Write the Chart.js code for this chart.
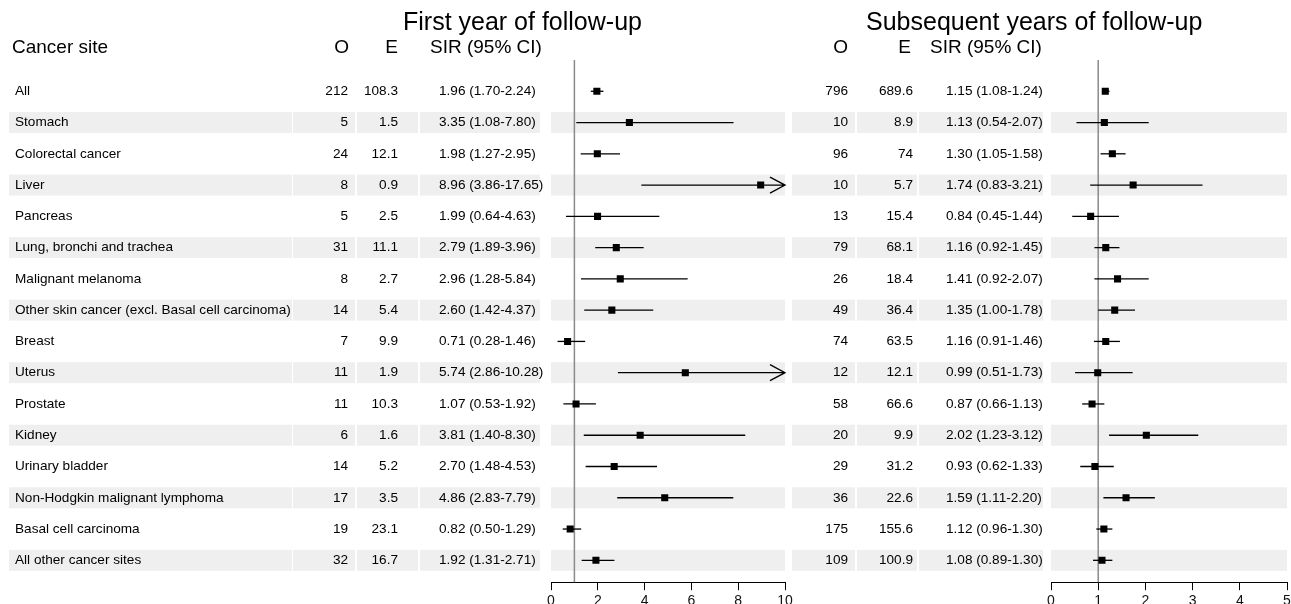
<!DOCTYPE html>
<html>
<head>
<meta charset="utf-8">
<script src="https://cdn.jsdelivr.net/npm/chart.js@4.4.1/dist/chart.umd.min.js"></script>
<style>
  html, body { margin: 0; padding: 0; background: #fff; overflow: hidden; width: 1291px; height: 604px; }
  canvas { position: absolute; top: 0; }
  #left { left: 0; }
  #right { left: 780px; }
</style>
</head>
<body>
<canvas id="left" width="800" height="617"></canvas>
<canvas id="right" width="530" height="617"></canvas>
<script>
const sites = ['All', 'Stomach', 'Colorectal cancer', 'Liver', 'Pancreas', 'Lung, bronchi and trachea',
  'Malignant melanoma', 'Other skin cancer (excl. Basal cell carcinoma)', 'Breast', 'Uterus', 'Prostate',
  'Kidney', 'Urinary bladder', 'Non-Hodgkin malignant lymphoma', 'Basal cell carcinoma', 'All other cancer sites'];

// first year of follow-up
const oFirst = [212, 5, 24, 8, 5, 31, 8, 14, 7, 11, 11, 6, 14, 17, 19, 32];
const eFirst = [108.3, 1.5, 12.1, 0.9, 2.5, 11.1, 2.7, 5.4, 9.9, 1.9, 10.3, 1.6, 5.2, 3.5, 23.1, 16.7];
const sirFirst = [1.96, 3.35, 1.98, 8.96, 1.99, 2.79, 2.96, 2.60, 0.71, 5.74, 1.07, 3.81, 2.70, 4.86, 0.82, 1.92];
const loFirst = [1.70, 1.08, 1.27, 3.86, 0.64, 1.89, 1.28, 1.42, 0.28, 2.86, 0.53, 1.40, 1.48, 2.83, 0.50, 1.31];
const hiFirst = [2.24, 7.80, 2.95, 17.65, 4.63, 3.96, 5.84, 4.37, 1.46, 10.28, 1.92, 8.30, 4.53, 7.79, 1.29, 2.71];

// subsequent years of follow-up
const oLater = [796, 10, 96, 10, 13, 79, 26, 49, 74, 12, 58, 20, 29, 36, 175, 109];
const eLater = [689.6, 8.9, 74, 5.7, 15.4, 68.1, 18.4, 36.4, 63.5, 12.1, 66.6, 9.9, 31.2, 22.6, 155.6, 100.9];
const sirLater = [1.15, 1.13, 1.30, 1.74, 0.84, 1.16, 1.41, 1.35, 1.16, 0.99, 0.87, 2.02, 0.93, 1.59, 1.12, 1.08];
const loLater = [1.08, 0.54, 1.05, 0.83, 0.45, 0.92, 0.92, 1.00, 0.91, 0.51, 0.66, 1.23, 0.62, 1.11, 0.96, 0.89];
const hiLater = [1.24, 2.07, 1.58, 3.21, 1.44, 1.45, 2.07, 1.78, 1.46, 1.73, 1.13, 3.12, 1.33, 2.20, 1.30, 1.30];

const FONT = '"Liberation Sans", Arial, sans-serif';
const BAND = '#efefef';

function forestChart(canvasId, cfg) {
  const forestPlugin = {
    id: 'forest',
    beforeDatasetsDraw(chart) {
      const c = chart.ctx, xs = chart.scales.x, ys = chart.scales.y, area = chart.chartArea;
      c.save();
      // grey bands on every second row
      c.fillStyle = BAND;
      for (let i = 1; i < sites.length; i += 2) {
        const top = ys.getPixelForValue(i - 0.335);
        const h = ys.getPixelForValue(i + 0.335) - top;
        cfg.bands.forEach(b => c.fillRect(b[0], top, b[1] - b[0], h));
        c.fillRect(area.left, top, area.right - area.left, h);
      }
      // reference line at SIR = 1
      c.strokeStyle = '#8a8a8a';
      c.lineWidth = 1.5;
      c.beginPath();
      c.moveTo(xs.getPixelForValue(1), area.top);
      c.lineTo(xs.getPixelForValue(1), area.bottom);
      c.stroke();
      // confidence intervals
      c.strokeStyle = '#000';
      c.lineWidth = 1.3;
      for (let i = 0; i < sites.length; i++) {
        const y = ys.getPixelForValue(i);
        const x1 = xs.getPixelForValue(Math.max(cfg.lo[i], xs.min));
        const x2 = xs.getPixelForValue(Math.min(cfg.hi[i], xs.max));
        c.beginPath();
        c.moveTo(x1, y);
        c.lineTo(x2, y);
        if (cfg.hi[i] > xs.max) {
          c.moveTo(x2 - 15, y - 8);
          c.lineTo(x2, y);
          c.lineTo(x2 - 15, y + 8);
        }
        c.stroke();
      }
      c.restore();
    },
    afterDraw(chart) {
      const c = chart.ctx, ys = chart.scales.y;
      c.save();
      c.fillStyle = '#000';
      c.textBaseline = 'middle';
      c.font = '25px ' + FONT;
      c.textAlign = 'left';
      c.fillText(cfg.title, cfg.titleX, 23);
      c.font = '19px ' + FONT;
      if (cfg.showSite) c.fillText('Cancer site', 12, 48);
      c.textAlign = 'right';
      c.fillText('O', cfg.oHead, 48);
      c.fillText('E', cfg.eHead, 48);
      c.textAlign = 'left';
      c.fillText('SIR (95% CI)', cfg.sirHead, 48);
      c.font = '13.6px ' + FONT;
      for (let i = 0; i < sites.length; i++) {
        const y = ys.getPixelForValue(i);
        c.textAlign = 'left';
        if (cfg.showSite) c.fillText(sites[i], 15, y);
        c.fillText(cfg.sir[i].toFixed(2) + ' (' + cfg.lo[i].toFixed(2) + '-' + cfg.hi[i].toFixed(2) + ')', cfg.sirCol, y);
        c.textAlign = 'right';
        c.fillText(String(cfg.o[i]), cfg.oCol, y);
        c.fillText(String(cfg.e[i]), cfg.eCol, y);
      }
      c.restore();
    }
  };

  return new Chart(document.getElementById(canvasId), {
    type: 'scatter',
    data: {
      datasets: [{
        data: cfg.sir.map((v, i) => ({ x: v, y: i })),
        pointStyle: 'rect',
        pointRadius: 5,
        pointBorderWidth: 0,
        backgroundColor: '#000',
        borderColor: '#000'
      }]
    },
    options: {
      responsive: false,
      animation: false,
      layout: { padding: { left: cfg.padLeft, right: cfg.padRight, top: 60, bottom: 4 } },
      plugins: { legend: { display: false }, tooltip: { enabled: false } },
      scales: {
        x: {
          type: 'linear',
          min: 0,
          max: cfg.max,
          ticks: { stepSize: cfg.step, color: '#111', font: { family: FONT, size: 14 }, padding: 3 },
          grid: { drawOnChartArea: false, drawTicks: true, tickLength: 8, color: '#000' },
          border: { display: true, color: '#000', width: 1 }
        },
        y: { type: 'linear', min: -1, max: 15.7, reverse: true, display: false }
      }
    },
    plugins: [forestPlugin]
  });
}

forestChart('left', {
  o: oFirst, e: eFirst, sir: sirFirst, lo: loFirst, hi: hiFirst,
  max: 10, step: 2, padLeft: 551, padRight: 15,
  title: 'First year of follow-up', titleX: 403, showSite: true,
  oHead: 349, eHead: 398, sirHead: 430,
  oCol: 348, eCol: 398, sirCol: 439,
  bands: [[9, 292], [293, 355], [357, 418], [420, 540]]
});

forestChart('right', {
  o: oLater, e: eLater, sir: sirLater, lo: loLater, hi: hiLater,
  max: 5, step: 1, padLeft: 271, padRight: 23,
  title: 'Subsequent years of follow-up', titleX: 86, showSite: false,
  oHead: 68, eHead: 131, sirHead: 150,
  oCol: 68, eCol: 133, sirCol: 166,
  bands: [[12, 75], [77, 137], [139, 263]]
});
</script>
</body>
</html>
